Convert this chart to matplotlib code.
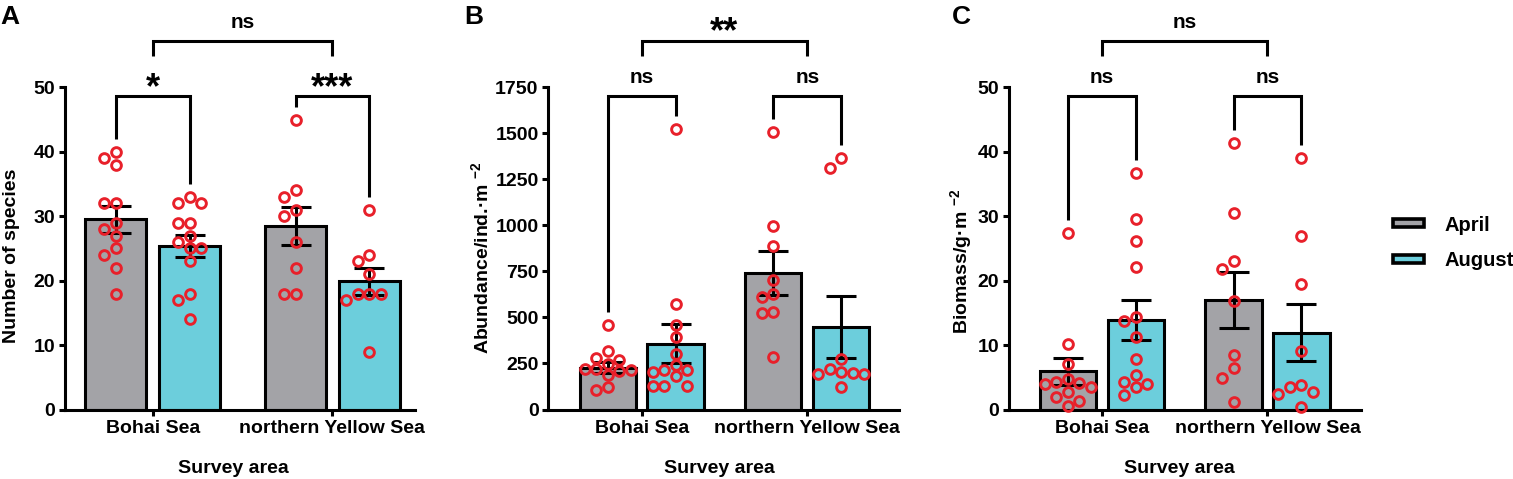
import numpy as np
import matplotlib
matplotlib.use("Agg")
import matplotlib.pyplot as plt
from matplotlib.patches import Patch

# ---------------- data ----------------
regions = ["Bohai Sea", "northern Yellow Sea"]
seasons = ["April", "August"]

# Panel A: number of species
a_bohai_apr = [40, 39, 38, 32, 32, 29, 28, 27, 25, 24, 22, 18]
a_bohai_aug = [33, 32, 32, 29, 29, 27, 26, 25, 25, 23, 18, 17, 14]
a_nys_apr = [45, 34, 33, 31, 30, 26, 22, 18, 18]
a_nys_aug = [31, 24, 23, 21, 18, 18, 18, 17, 9]
a_mean_apr = [29.5, 28.5]
a_mean_aug = [25.4, 19.9]
a_sem_apr = [2.05, 2.95]
a_sem_aug = [1.75, 2.1]
a_sig_pair = ["*", "***"]
a_sig_top = "ns"

# Panel B: abundance
b_bohai_apr = [461, 318, 282, 267, 249, 222, 222, 217, 209, 186, 123, 108]
b_bohai_aug = [1524, 575, 457, 394, 300, 240, 217, 213, 204, 181, 126, 126, 126]
b_nys_apr = [1509, 996, 889, 701, 629, 611, 529, 524, 285]
b_nys_aug = [1366, 1310, 276, 222, 204, 197, 191, 191, 123]
b_mean_apr = [228, 740]
b_mean_aug = [358, 450]
b_sem_apr = [28, 120]
b_sem_aug = [105, 168]
b_sig_pair = ["ns", "ns"]
b_sig_top = "**"

# Panel C: biomass
c_bohai_apr = [27.4, 10.2, 7.1, 4.75, 4.3, 4.1, 3.98, 3.46, 2.7, 1.9, 1.3, 0.6]
c_bohai_aug = [36.7, 29.5, 26.2, 22.1, 14.4, 13.8, 11.3, 7.9, 5.3, 4.2, 4.0, 3.5, 2.2]
c_nys_apr = [41.3, 30.5, 23.1, 21.8, 16.8, 8.5, 6.5, 4.9, 1.2]
c_nys_aug = [39.0, 27.0, 19.5, 9.1, 3.8, 3.5, 2.7, 2.4, 0.4]
c_mean_apr = [5.9, 17.0]
c_mean_aug = [13.9, 11.9]
c_sem_apr = [2.1, 4.4]
c_sem_aug = [3.1, 4.45]
c_sig_pair = ["ns", "ns"]
c_sig_top = "ns"

y_labels = ["Number of species", r"Abundance/ind.·m $^{-2}$", r"Biomass/g·m $^{-2}$"]
x_label = "Survey area"
panel_letters = ["A", "B", "C"]
y_max = [50, 1750, 50]
y_step = [10, 250, 10]

# ---------------- style ----------------
plt.rcParams["font.family"] = ["Liberation Sans", "DejaVu Sans"]
plt.rcParams["font.weight"] = "bold"
plt.rcParams["axes.labelweight"] = "bold"
plt.rcParams["mathtext.fontset"] = "custom"
plt.rcParams["mathtext.rm"] = "Liberation Sans:bold"
plt.rcParams["mathtext.it"] = "Liberation Sans:bold"
plt.rcParams["mathtext.bf"] = "Liberation Sans:bold"
plt.rcParams["mathtext.sf"] = "Liberation Sans:bold"
plt.rcParams["mathtext.default"] = "rm"

GRAY = "#A3A3A7"
CYAN = "#6CCEDC"
RED = "#E8202A"
LW = 2.2
FS = 14

W, H = 1513, 479
fig = plt.figure(figsize=(W / 100, H / 100), dpi=100)

rects = [(65 / W, 1 - 409.5 / H, 350 / W, 322.2 / H),
         (548.3 / W, 1 - 409.5 / H, 350.7 / W, 322.2 / H),
         (1008.9 / W, 1 - 409.5 / H, 351.9 / W, 322.2 / H)]
xlims = [(-0.488, 1.46), (-0.564, 1.554), (-0.562, 1.564)]
ylab_coords = [(-0.128, 0.477), (-0.160, 0.472), (-0.098, 0.46)]
xlab_coords = [(0.48, -0.157), (0.487, -0.157), (0.485, -0.157)]
letter_x = [0, 464, 952]

panels = [
    dict(groups=[(a_bohai_apr, a_bohai_aug), (a_nys_apr, a_nys_aug)],
         mean=(a_mean_apr, a_mean_aug), sem=(a_sem_apr, a_sem_aug),
         pair=a_sig_pair, top=a_sig_top),
    dict(groups=[(b_bohai_apr, b_bohai_aug), (b_nys_apr, b_nys_aug)],
         mean=(b_mean_apr, b_mean_aug), sem=(b_sem_apr, b_sem_aug),
         pair=b_sig_pair, top=b_sig_top),
    dict(groups=[(c_bohai_apr, c_bohai_aug), (c_nys_apr, c_nys_aug)],
         mean=(c_mean_apr, c_mean_aug), sem=(c_sem_apr, c_sem_aug),
         pair=c_sig_pair, top=c_sig_top),
]

OFF = 0.205
BW = 0.34
D_PX = 11.5


def swarm(ax, xc, vals, d):
    vals = np.asarray(vals, float)
    p0 = ax.transData.transform((xc, 0))
    sx = ax.transData.transform((xc + 1, 0))[0] - p0[0]
    ys = ax.transData.transform(np.column_stack([np.full(len(vals), xc), vals]))[:, 1]
    order = np.argsort(-vals, kind="stable")
    placed = []
    offs = np.zeros(len(vals))
    for i in order:
        y = ys[i]
        x = 0.0
        for k in (0, -1, 1, -2, 2, -3, 3, -4, 4, -5, 5):
            x = k * d
            if all((x - px) ** 2 + (y - py) ** 2 >= (0.9 * d) ** 2 for px, py in placed):
                break
        placed.append((x, y))
        offs[i] = x / sx
    return xc + offs


def label_text(ax, s, x, y):
    if "*" in s:
        ax.annotate(s, xy=(x, y), xytext=(0, -1.5), textcoords="offset points",
                    ha="center", va="baseline", fontsize=26, fontweight="bold",
                    annotation_clip=False)
    else:
        ax.annotate(s, xy=(x, y), xytext=(0, 9.0), textcoords="offset points",
                    ha="center", va="baseline", fontsize=15, fontweight="bold",
                    annotation_clip=False)


for i, p in enumerate(panels):
    ax = fig.add_axes(rects[i])
    ymax = y_max[i]
    ax.set_xlim(*xlims[i])
    ax.set_ylim(0, ymax)
    x = np.arange(len(regions))
    colors = [GRAY, CYAN]
    offsets = [-OFF, OFF]
    for s in range(2):
        ax.bar(x + offsets[s], p["mean"][s], width=BW, color=colors[s],
               edgecolor="black", linewidth=LW, zorder=2, label=seasons[s])
        ax.errorbar(x + offsets[s], p["mean"][s], yerr=p["sem"][s], fmt="none",
                    ecolor="black", elinewidth=LW, capsize=10.5, capthick=LW, zorder=3)
    for g, (va, vb) in enumerate(p["groups"]):
        for s, vals in enumerate((va, vb)):
            xs = swarm(ax, x[g] + offsets[s], vals, D_PX)
            ax.plot(xs, vals, ls="none", marker="o", ms=7.0, mfc="none",
                    mec=RED, mew=2.1, zorder=4, clip_on=False)

    # brackets
    line_y = 0.973 * ymax
    for g, (va, vb) in enumerate(p["groups"]):
        l1 = max(va) + 0.04 * ymax
        l2 = max(vb) + 0.04 * ymax
        xa, xb = x[g] - OFF, x[g] + OFF
        ax.plot([xa, xa, xb, xb], [l1, line_y, line_y, l2], color="black", lw=LW,
                clip_on=False, solid_joinstyle="miter", solid_capstyle="butt", zorder=5)
        label_text(ax, p["pair"][g], x[g], line_y)
    top_y = 1.145 * ymax
    top_leg = 1.097 * ymax
    ax.plot([x[0], x[0], x[1], x[1]], [top_leg, top_y, top_y, top_leg], color="black",
            lw=LW, clip_on=False, solid_joinstyle="miter", solid_capstyle="butt", zorder=5)
    label_text(ax, p["top"], (x[0] + x[1]) / 2, top_y)

    # axes styling
    for sp in ("top", "right"):
        ax.spines[sp].set_visible(False)
    for sp in ("left", "bottom"):
        ax.spines[sp].set_linewidth(LW)
        ax.spines[sp].set_capstyle("projecting")
    ax.set_yticks(np.arange(0, ymax + 1, y_step[i]))
    ax.set_xticks(x, regions)
    ax.tick_params(axis="both", width=LW, length=4.5, labelsize=FS, color="black")
    ax.tick_params(axis="x", pad=3.0)
    ax.tick_params(axis="y", pad=2.5)
    for t in ax.get_xticklabels() + ax.get_yticklabels():
        t.set_fontweight("bold")
    ax.set_ylabel(y_labels[i], fontsize=FS, fontweight="bold")
    ax.set_xlabel(x_label, fontsize=FS, fontweight="bold")
    ax.yaxis.set_label_coords(*ylab_coords[i])
    ax.xaxis.set_label_coords(*xlab_coords[i])
    fig.text(letter_x[i] / W, 1 - 5.0 / H, panel_letters[i], ha="left", va="top",
             fontsize=19, fontweight="bold")

handles = [Patch(facecolor=GRAY, edgecolor="black", linewidth=LW + 0.4, label=seasons[0]),
           Patch(facecolor=CYAN, edgecolor="black", linewidth=LW + 0.4, label=seasons[1])]
leg = fig.legend(handles=handles, loc="center left", bbox_to_anchor=(1393 / W, 1 - 243 / H),
                 frameon=False, fontsize=14.5, handlelength=1.55, handleheight=0.2,
                 handletextpad=1.0, labelspacing=0.84, borderpad=0, borderaxespad=0)
for t in leg.get_texts():
    t.set_fontweight("bold")

fig.savefig("out.png", dpi=100)
